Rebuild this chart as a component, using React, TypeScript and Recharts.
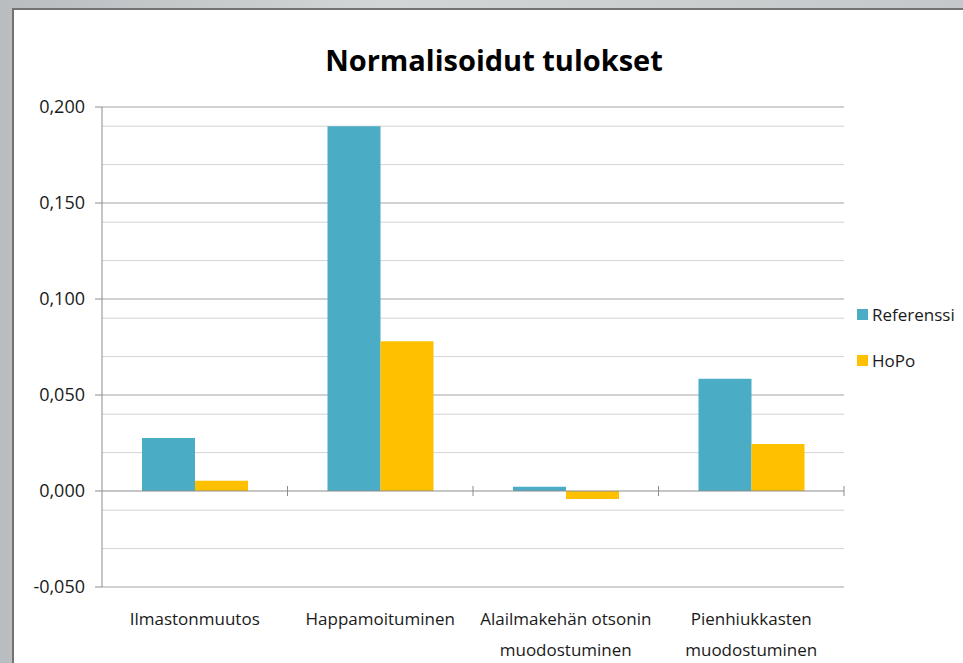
import { BarChart, Bar, XAxis, YAxis, CartesianGrid, ReferenceLine } from 'recharts';

const categories = ['Ilmastonmuutos', 'Happamoituminen', 'Alailmakehän otsonin\nmuodostuminen', 'Pienhiukkasten\nmuodostuminen'];
const referenssi = [0.0276, 0.19, 0.0022, 0.0584];
const hopo = [0.0053, 0.078, -0.0042, 0.0245];
const yTicks = [-0.05, 0, 0.05, 0.1, 0.15, 0.2];
const minorGrid = [-0.04, -0.03, -0.02, -0.01, 0.01, 0.02, 0.03, 0.04, 0.06, 0.07, 0.08, 0.09, 0.11, 0.12, 0.13, 0.14, 0.16, 0.17, 0.18, 0.19];
const majorGrid = [-0.05, 0.05, 0.1, 0.15, 0.2];

// note: a data key called "ref" ends up as a React ref on the bar shapes, so avoid it
const series = [
    { key: 'referenssi', name: 'Referenssi', color: '#4BACC6' },
    { key: 'hopo', name: 'HoPo', color: '#FFC000' },
];

const data = categories.map((name, i) => ({ name, referenssi: referenssi[i], hopo: hopo[i] }));

const font = '"Open Sans", sans-serif';
const axisColor = '#8c8c8c';

function renderCategoryTick(props: any) {
    const { x, y, payload } = props;
    const lines = String(payload.value).split('\n');
    return (
        <text x={x} y={y} textAnchor="middle" fill="#1a1a1a" fontSize={17} fontFamily={font}>
            {lines.map((l, i) => (
                <tspan key={i} x={x} dy={i === 0 ? 30 : 31}>{l}</tspan>
            ))}
        </text>
    );
}

// category axis sits on the zero line, with tick marks between the categories
function renderZeroAxis(props: any) {
    const { x1, x2, y1 } = props;
    const step = (x2 - x1) / categories.length;
    return (
        <g>
            <line x1={x1} x2={x2} y1={y1} y2={y1} stroke={axisColor} />
            {categories.map((_, i) => (
                <line key={i} x1={x1 + step * (i + 1)} x2={x1 + step * (i + 1)} y1={y1 - 5} y2={y1 + 5} stroke={axisColor} />
            ))}
        </g>
    );
}

export default function App() {
    return (
        <div style={{ position: 'absolute', left: 0, top: 0, width: 963, height: 663, overflow: 'hidden', background: 'linear-gradient(90deg, #b9bdbf, #d3d6d7 40%, #c4c8ca)' }}>
            <div style={{ position: 'absolute', left: 12, top: 8, width: 980, height: 700, background: '#fff', border: '2px solid #737373' }} />
            <div style={{ position: 'absolute', left: 0, top: 40, width: 963, textAlign: 'center', fontFamily: font, fontWeight: 700, fontSize: 29, color: '#000', paddingLeft: 25, boxSizing: 'border-box' }}>
                Normalisoidut tulokset
            </div>
            <div style={{ position: 'absolute', left: 0, top: 0 }}>
                <BarChart width={963} height={663} data={data} margin={{ top: 107, right: 119, left: 0, bottom: 0 }} barCategoryGap={40} barGap={0}>
                    <CartesianGrid vertical={false} horizontalValues={minorGrid} stroke="#d3d3d3" />
                    <CartesianGrid vertical={false} horizontalValues={majorGrid} stroke="#a3a3a3" />
                    <XAxis dataKey="name" height={76} axisLine={false} tickLine={false} tick={renderCategoryTick} interval={0} />
                    <YAxis
                        width={102}
                        domain={[-0.05, 0.2]}
                        ticks={yTicks}
                        tickFormatter={(v: number) => v.toFixed(3).replace('.', ',')}
                        axisLine={{ stroke: axisColor }}
                        tickLine={{ stroke: axisColor }}
                        tickSize={7}
                        tick={{ fill: '#1a1a1a', fontSize: 18, fontFamily: font, dx: -8 }}
                        allowDataOverflow
                    />
                    {series.map(s => (
                        <Bar key={s.key} dataKey={s.key} name={s.name} fill={s.color} isAnimationActive={false} />
                    ))}
                    <ReferenceLine y={0} stroke={axisColor} shape={renderZeroAxis} />
                </BarChart>
            </div>
            <div style={{ position: 'absolute', left: 857, top: 302, fontFamily: font, fontSize: 17, color: '#1a1a1a' }}>
                {series.map((s, i) => (
                    <div key={s.key} style={{ display: 'flex', alignItems: 'center', height: 24, marginBottom: i === 0 ? 22 : 0 }}>
                        <span style={{ width: 11, height: 11, background: s.color, marginRight: 4, display: 'inline-block' }} />
                        {s.name}
                    </div>
                ))}
            </div>
        </div>
    );
}
